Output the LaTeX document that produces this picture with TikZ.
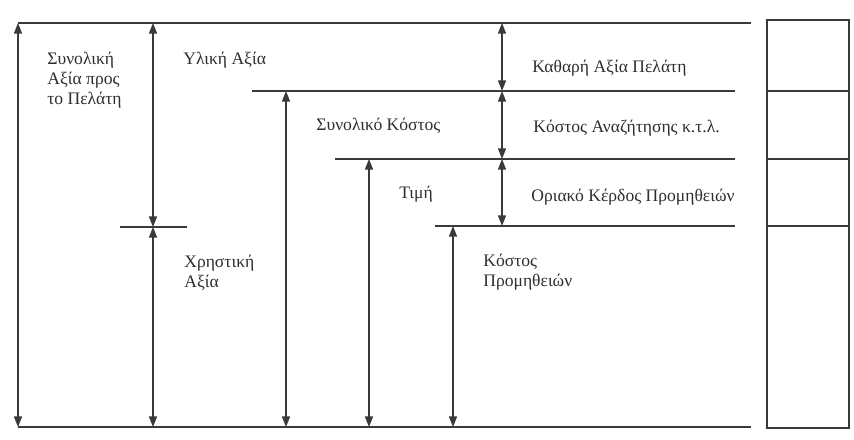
\documentclass[tikz,border=0pt]{standalone}
\usepackage{fontspec}
\setmainfont{Liberation Serif}
\usetikzlibrary{arrows.meta}
\definecolor{inkgray}{HTML}{3A3A3A}
\definecolor{textgray}{HTML}{2E2E2E}
\tikzset{
  level/.style={draw=inkgray,line width=0.85pt},
  span/.style={draw=inkgray,line width=0.85pt,
    {Triangle[length=6pt,width=4.5pt]}-{Triangle[length=6pt,width=4.5pt]}},
  lbl/.style={font=\fontsize{10}{11.5}\selectfont,text=textgray,
    anchor=west,align=left,inner sep=0pt}
}
\begin{document}
\begin{tikzpicture}
  \useasboundingbox (0,0) rectangle (17.08,8.8);
  % Levels
  \coordinate (topL) at (0.36,8.34);   \coordinate (topR) at (15.02,8.34);
  \coordinate (botL) at (0.36,0.26);   \coordinate (botR) at (15.02,0.26);
  \coordinate (costL) at (5.04,6.98);  \coordinate (costR) at (14.70,6.98);
  \coordinate (priceL) at (6.70,5.62); \coordinate (priceR) at (14.70,5.62);
  \coordinate (suppL) at (8.70,4.28);  \coordinate (suppR) at (14.70,4.28);
  \coordinate (tickL) at (2.40,4.26);  \coordinate (tickR) at (3.74,4.26);
  \foreach \a/\b in {topL/topR,botL/botR,costL/costR,priceL/priceR,suppL/suppR,tickL/tickR}
    \draw[level] (\a) -- (\b);
  % Arrow feet on the levels
  \coordinate (tickM) at (3.06,4.26);
  \coordinate (costA) at (5.72,6.98);
  \coordinate (priceA) at (7.38,5.62);
  \coordinate (suppA) at (9.06,4.28);
  \coordinate (netA) at (10.04,8.34);
  % Vertical spans
  \draw[span] (topL) -- (botL);
  \draw[span] (tickM |- topL) -- (tickM);
  \draw[span] (tickM) -- (tickM |- botL);
  \foreach \c in {costA,priceA,suppA}
    \draw[span] (\c) -- (\c |- botL);
  \draw[span] (netA) -- (netA |- costL);
  \draw[span] (netA |- costL) -- (netA |- priceL);
  \draw[span] (netA |- priceL) -- (netA |- suppL);
  % Side column
  \draw[level] (15.34,0.24) rectangle (16.98,8.40);
  \foreach \y in {6.98,5.62,4.28}
    \draw[level] (15.34,\y) -- (16.98,\y);
  % Labels
  \node[lbl] (total) at (0.94,7.2) {Συνολική\\Αξία προς\\το Πελάτη};
  \node[lbl] (material) at (3.66,7.6) {Υλική Αξία};
  \node[lbl] (usage) at (3.68,3.34) {Χρηστική\\Αξία};
  \node[lbl] (totcost) at (6.32,6.28) {Συνολικό Κόστος};
  \node[lbl] (price) at (7.98,4.92) {Τιμή};
  \node[lbl] (suppcost) at (9.66,3.36) {Κόστος\\Προμηθειών};
  \node[lbl] (netval) at (10.64,7.44) {Καθαρή Αξία Πελάτη};
  \node[lbl] (search) at (10.66,6.24) {Κόστος Αναζήτησης κ.τ.λ.};
  \node[lbl] (margin) at (10.62,4.86) {Οριακό Κέρδος Προμηθειών};
\end{tikzpicture}
\end{document}
